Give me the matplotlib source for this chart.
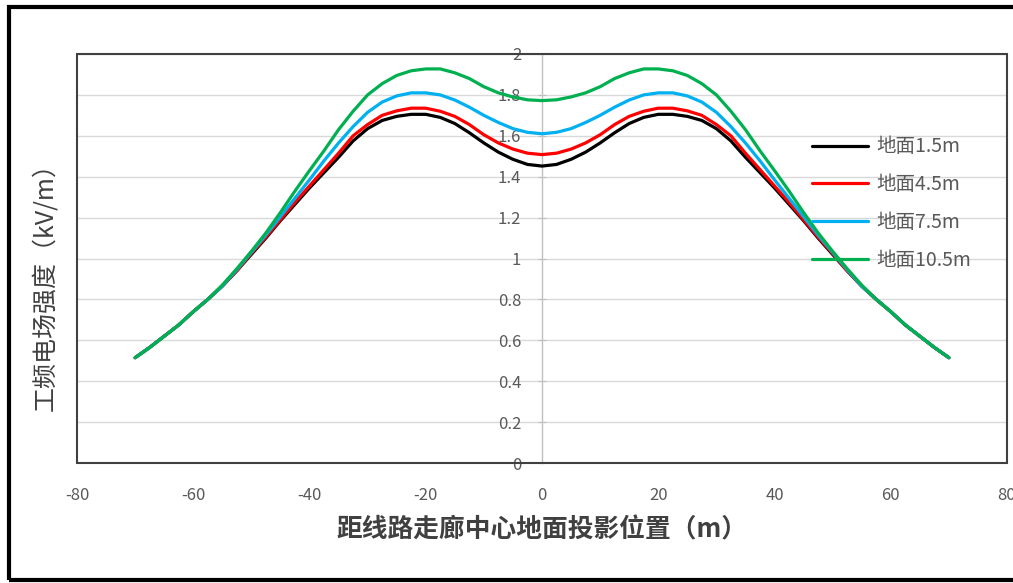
import matplotlib
matplotlib.use("Agg")
import matplotlib.pyplot as plt
from matplotlib.patches import Rectangle

plt.rcParams['font.family'] = ['Noto Sans CJK SC', 'DejaVu Sans']
plt.rcParams['axes.unicode_minus'] = False

x = [-70, -67.5, -65, -62.5, -60, -57.5, -55, -52.5, -50, -47.5, -45, -42.5, -40, -37.5,
     -35, -32.5, -30, -27.5, -25, -22.5, -20, -17.5, -15, -12.5, -10, -7.5, -5, -2.5,
     0, 2.5, 5, 7.5, 10, 12.5, 15, 17.5, 20, 22.5, 25, 27.5, 30, 32.5, 35, 37.5,
     40, 42.5, 45, 47.5, 50, 52.5, 55, 57.5, 60, 62.5, 65, 67.5, 70]

h15 = [0.515, 0.565, 0.62, 0.675, 0.74, 0.80, 0.865, 0.94, 1.02, 1.10, 1.185, 1.265, 1.345, 1.42,
       1.495, 1.575, 1.635, 1.675, 1.695, 1.705, 1.705, 1.69, 1.66, 1.615, 1.565, 1.52, 1.485, 1.46,
       1.452, 1.46, 1.485, 1.52, 1.565, 1.615, 1.66, 1.69, 1.705, 1.705, 1.695, 1.675, 1.635, 1.575, 1.495, 1.42,
       1.345, 1.265, 1.185, 1.10, 1.02, 0.94, 0.865, 0.80, 0.74, 0.675, 0.62, 0.565, 0.515]

h45 = [0.515, 0.565, 0.62, 0.675, 0.74, 0.80, 0.865, 0.94, 1.025, 1.105, 1.19, 1.275, 1.355, 1.435,
       1.515, 1.60, 1.655, 1.70, 1.722, 1.735, 1.735, 1.72, 1.695, 1.655, 1.605, 1.565, 1.535, 1.515,
       1.508, 1.515, 1.535, 1.565, 1.605, 1.655, 1.695, 1.72, 1.735, 1.735, 1.722, 1.70, 1.655, 1.60, 1.515, 1.435,
       1.355, 1.275, 1.19, 1.105, 1.025, 0.94, 0.865, 0.80, 0.74, 0.675, 0.62, 0.565, 0.515]

h75 = [0.515, 0.565, 0.62, 0.675, 0.74, 0.80, 0.865, 0.945, 1.03, 1.115, 1.205, 1.295, 1.385, 1.478,
       1.565, 1.645, 1.715, 1.765, 1.795, 1.81, 1.81, 1.80, 1.775, 1.74, 1.70, 1.665, 1.635, 1.617,
       1.61, 1.617, 1.635, 1.665, 1.70, 1.74, 1.775, 1.80, 1.81, 1.81, 1.795, 1.765, 1.715, 1.645, 1.565, 1.478,
       1.385, 1.295, 1.205, 1.115, 1.03, 0.945, 0.865, 0.80, 0.74, 0.675, 0.62, 0.565, 0.515]

h105 = [0.515, 0.565, 0.62, 0.675, 0.74, 0.80, 0.87, 0.95, 1.035, 1.125, 1.225, 1.33, 1.43, 1.527,
        1.63, 1.72, 1.80, 1.855, 1.895, 1.918, 1.927, 1.927, 1.908, 1.88, 1.84, 1.81, 1.79, 1.776,
        1.772, 1.776, 1.79, 1.81, 1.84, 1.88, 1.908, 1.927, 1.927, 1.918, 1.895, 1.855, 1.80, 1.72, 1.63, 1.527,
        1.43, 1.33, 1.225, 1.125, 1.035, 0.95, 0.87, 0.80, 0.74, 0.675, 0.62, 0.565, 0.515]

series_labels = ['地面1.5m', '地面4.5m', '地面7.5m', '地面10.5m']
series_colors = ['#000000', '#ff0000', '#00b0f0', '#00b050']
x_ticks = [-80, -60, -40, -20, 0, 20, 40, 60, 80]
y_ticks = [0, 0.2, 0.4, 0.6, 0.8, 1, 1.2, 1.4, 1.6, 1.8, 2]
y_tick_labels = ['0', '0.2', '0.4', '0.6', '0.8', '1', '1.2', '1.4', '1.6', '1.8', '2']

W, H = 1013, 583
fig = plt.figure(figsize=(W / 100, H / 100), dpi=100)
fig.patch.set_facecolor('white')

L, R, T, B = 77, 1007, 54, 463
ax = fig.add_axes([L / W, 1 - B / H, (R - L) / W, (B - T) / H])

for ys, lab, col in zip([h15, h45, h75, h105], series_labels, series_colors):
    ax.plot(x, ys, color=col, lw=2.3, label=lab, solid_capstyle='round',
            solid_joinstyle='round', zorder=3)

ax.set_xlim(-80, 80)
ax.set_ylim(0, 2)
ax.set_xticks(x_ticks)
ax.set_yticks(y_ticks)
ax.set_yticklabels(y_tick_labels)

ax.grid(axis='y', color='#d9d9d9', lw=1, zorder=0)
ax.grid(axis='x', visible=False)

for s in ['top', 'right', 'bottom']:
    ax.spines[s].set_visible(False)
ax.spines['left'].set_position(('data', 0))
ax.spines['left'].set_color('#bfbfbf')
ax.spines['left'].set_linewidth(1)
ax.spines['left'].set_zorder(1)

ax.tick_params(axis='y', direction='inout', length=6, color='#bfbfbf', pad=12,
               labelsize=12, labelcolor='#595959')
ax.tick_params(axis='x', length=0, pad=17, labelsize=12, labelcolor='#595959')

box = Rectangle((0, 0), 1, 1, transform=ax.transAxes, fill=False, edgecolor='#404040',
                lw=1.5, clip_on=False, zorder=5)
ax.add_patch(box)

ax.set_xlabel('距线路走廊中心地面投影位置（m）', fontsize=18.5, fontweight='bold',
              color='#404040')
ax.xaxis.set_label_coords(0.5, (B - 530) / (B - T), transform=ax.transAxes)
ax.xaxis.label.set_va('center')
ax.set_ylabel('工频电场强度（kV/m）', fontsize=18, color='#404040')
ax.yaxis.set_label_coords((45 - L) / (R - L), (B - 281) / (B - T))
ax.yaxis.label.set_va('center')

leg = ax.legend(loc='center left', bbox_to_anchor=((812 - L) / (R - L), (B - 203.5) / (B - T)),
                frameon=False, fontsize=14, handlelength=2.9, handletextpad=0.4,
                labelspacing=0.86, borderpad=0, borderaxespad=0)
for t in leg.get_texts():
    t.set_color('#595959')

outer = Rectangle((9 / W, 1 - 580 / H), (1030 - 9) / W, (580 - 6.5) / H, transform=fig.transFigure,
                  fill=False, edgecolor='black', lw=3, clip_on=False)
fig.patches.append(outer)

fig.savefig('out.png', dpi=100, facecolor='white')
